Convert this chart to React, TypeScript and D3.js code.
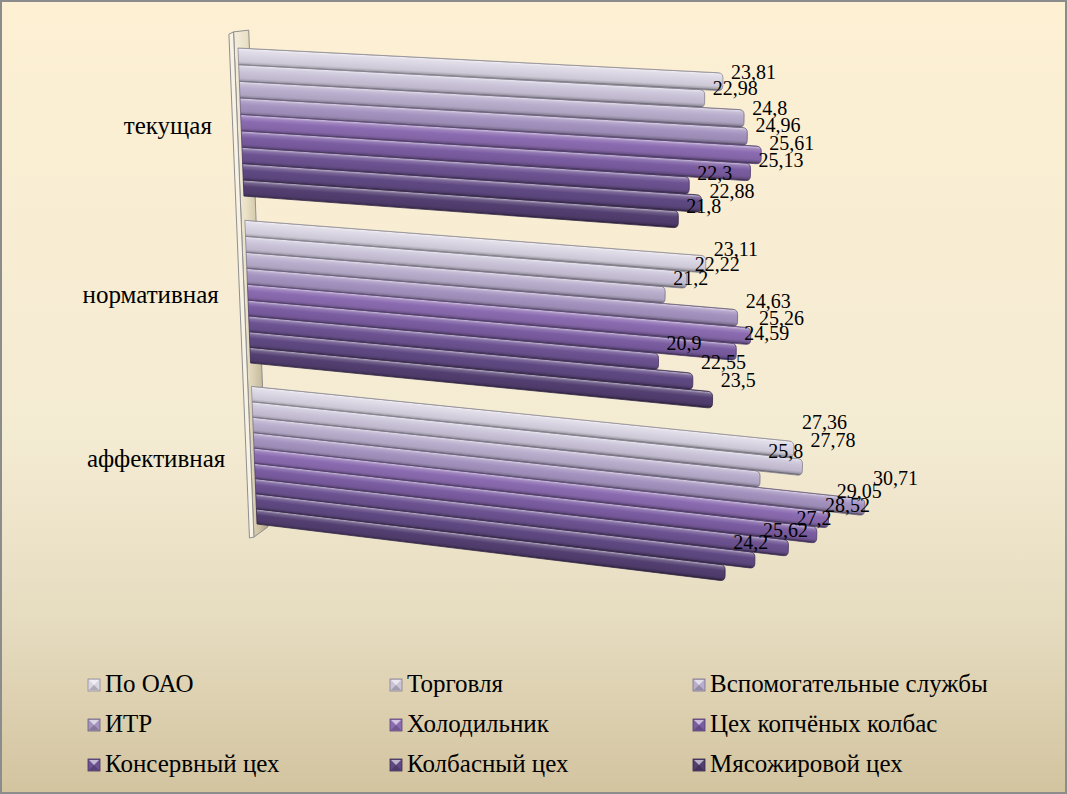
import React from "react";
import * as d3 from "d3";

// categories (top to bottom) and series (top bar to bottom bar inside each group)
const categories = ["текущая", "нормативная", "аффективная"];
const seriesNames = [
  "По ОАО",
  "Торговля",
  "Вспомогательные службы",
  "ИТР",
  "Холодильник",
  "Цех копчёных колбас",
  "Консервный цех",
  "Колбасный цех",
  "Мясожировой цех",
];
const seriesColors = [
  "#dad5e3",
  "#cbc4d9",
  "#b9aecd",
  "#a493bf",
  "#8b6bb1",
  "#7b5da2",
  "#6d5392",
  "#604983",
  "#533f71",
];
const valuesCurrent = [23.81, 22.98, 24.8, 24.96, 25.61, 25.13, 22.3, 22.88, 21.8];
const valuesNormative = [23.11, 22.22, 21.2, 24.63, 25.26, 24.59, 20.9, 22.55, 23.5];
const valuesAffective = [27.36, 27.78, 25.8, 30.71, 29.05, 28.52, 27.2, 25.62, 24.2];
const values = [valuesCurrent, valuesNormative, valuesAffective];

const W = 1067;
const H = 794;
const FONT = "'Liberation Serif', 'Times New Roman', serif";

type Pt = { x: number; y: number };

// planar perspective: solve the homography from 4 point pairs
function homography(src: [number, number][], dst: [number, number][]) {
  const A: number[][] = [];
  src.forEach(([u, w], i) => {
    const [x, y] = dst[i];
    A.push([u, w, 1, 0, 0, 0, -u * x, -w * x, x]);
    A.push([0, 0, 0, u, w, 1, -u * y, -w * y, y]);
  });
  const n = 8;
  for (let c = 0; c < n; c++) {
    let p = c;
    for (let r = c + 1; r < n; r++) if (Math.abs(A[r][c]) > Math.abs(A[p][c])) p = r;
    [A[c], A[p]] = [A[p], A[c]];
    for (let r = 0; r < n; r++) {
      if (r === c) continue;
      const f = A[r][c] / A[c][c];
      for (let k = c; k <= n; k++) A[r][k] -= f * A[c][k];
    }
  }
  const h = A.map((row, i) => row[n] / row[i]);
  return (u: number, w: number): Pt => {
    const d = h[6] * u + h[7] * w + 1;
    return { x: (h[0] * u + h[1] * w + h[2]) / d, y: (h[3] * u + h[4] * w + h[5]) / d };
  };
}

const x = d3.scaleLinear().domain([0, 1]).range([0, 1]);
const band = d3.scaleBand<string>().domain(categories).range([0, 30]).paddingInner(1.5 / 10.5);
const sub = d3.scaleBand<string>().domain(seriesNames).range([0, band.bandwidth()]);

const proj = homography(
  [
    [x(0), 0],
    [x(0), 30],
    [x(23.81), 0],
    [x(24.2), 30],
  ],
  [
    [238, 48],
    [257, 524],
    [723, 73],
    [725, 581],
  ]
);

const mixW = (c: string, t: number) => d3.interpolateRgb(c, "#ffffff")(t);
const mixB = (c: string, t: number) => d3.interpolateRgb(c, "#000000")(t);
const norm = (a: Pt, b: Pt) => {
  const dx = b.x - a.x;
  const dy = b.y - a.y;
  const l = Math.hypot(dx, dy);
  return { x: dx / l, y: dy / l };
};
const f = (p: Pt) => `${p.x.toFixed(2)},${p.y.toFixed(2)}`;
const poly = (pts: Pt[]) => "M" + pts.map(f).join("L") + "Z";

// label lift relative to the bar's top edge, per group (first bar, last bar)
const labelLift = [
  [6, 2],
  [0, -5],
  [-12, -16],
];

function Bar({ ci, si }: { ci: number; si: number }) {
  const v = values[ci][si];
  const w0 = band(categories[ci])! + sub(seriesNames[si])!;
  const w1 = w0 + sub.bandwidth();
  const u = x(v);
  const P1 = proj(0, w0);
  const P2 = proj(u, w0);
  const P3 = proj(u, w1);
  const P4 = proj(0, w1);
  const d = norm(P1, P2);
  const dd = norm(P4, P3);
  const e = norm(P2, P3);
  const r = 5;
  const path =
    `M${f(P1)}L${f({ x: P2.x - d.x * r, y: P2.y - d.y * r })}` +
    `Q${f(P2)} ${f({ x: P2.x + e.x * r, y: P2.y + e.y * r })}` +
    `L${f({ x: P3.x - e.x * r, y: P3.y - e.y * r })}` +
    `Q${f(P3)} ${f({ x: P3.x - dd.x * r, y: P3.y - dd.y * r })}` +
    `L${f(P4)}Z`;
  const mt = proj(u / 2, w0);
  const mb = proj(u / 2, w1);
  const n = { x: -d.y, y: d.x };
  const t = (mb.x - mt.x) * n.x + (mb.y - mt.y) * n.y;
  const c = seriesColors[si];
  const id = `bar${ci}_${si}`;
  const lift = labelLift[ci][0] + ((labelLift[ci][1] - labelLift[ci][0]) * si) / 8;
  return (
    <g>
      <defs>
        <linearGradient
          id={id}
          gradientUnits="userSpaceOnUse"
          x1={mt.x}
          y1={mt.y}
          x2={mt.x + n.x * t}
          y2={mt.y + n.y * t}
        >
          <stop offset="0" stopColor={mixB(c, 0.25)} />
          <stop offset="0.06" stopColor={mixW(c, 0.5)} />
          <stop offset="0.18" stopColor={mixW(c, 0.18)} />
          <stop offset="0.4" stopColor={c} />
          <stop offset="0.78" stopColor={mixB(c, 0.06)} />
          <stop offset="0.92" stopColor={mixB(c, 0.22)} />
          <stop offset="1" stopColor={mixB(c, 0.5)} />
        </linearGradient>
      </defs>
      <path d={path} fill={`url(#${id})`} stroke={mixB(c, 0.35)} strokeWidth={0.8} />
      <text x={P2.x + 8} y={P2.y + lift} fontFamily={FONT} fontSize={20} fill="#000">
        {String(v).replace(".", ",")}
      </text>
    </g>
  );
}

function Wall() {
  const top = band.range()[0];
  const bot = band.range()[1];
  const L0 = proj(-0.45, top - 0.8);
  const L1 = proj(-0.45, bot + 1.0);
  const M0 = proj(-0.2, top - 0.95);
  const M1 = proj(-0.2, bot + 0.9);
  const R0 = proj(0.6, top - 1.1);
  const R1 = proj(0.6, bot + 0.1);
  return (
    <g>
      <defs>
        <linearGradient id="wallFace" x1="0" y1="0" x2="1" y2="0">
          <stop offset="0" stopColor="#f4eddb" />
          <stop offset="0.35" stopColor="#ebe2c8" />
          <stop offset="0.75" stopColor="#cdc2a3" />
          <stop offset="1" stopColor="#b0a585" />
        </linearGradient>
      </defs>
      <path d={poly([M0, R0, R1, M1])} fill="url(#wallFace)" stroke="#8e8e8e" strokeWidth={1} />
      <path d={poly([L0, M0, M1, L1])} fill="#f7f2e4" stroke="#8e8e8e" strokeWidth={1} />
    </g>
  );
}

function LegendMarker({ x0, y0, c }: { x0: number; y0: number; c: string }) {
  const s = 12;
  const cx = x0 + s / 2;
  const cy = y0 + s / 2;
  return (
    <g>
      <rect x={x0} y={y0} width={s} height={s} fill={c} stroke={mixB(c, 0.35)} strokeWidth={0.8} />
      <path d={`M${x0 + 1},${y0 + 1}L${x0 + s - 1},${y0 + 1}L${cx},${cy}Z`} fill={mixW(c, 0.6)} />
      <path d={`M${x0 + 1},${y0 + s - 1}L${x0 + s - 1},${y0 + s - 1}L${cx},${cy}Z`} fill={mixB(c, 0.2)} />
    </g>
  );
}

export default function App() {
  const legendCols = [88, 390, 693];
  const legendRows = [679, 719, 759];
  return (
    <div>
      <style>{`body{margin:0}`}</style>
      <svg width={W} height={H} style={{ display: "block" }}>
        <defs>
          <linearGradient id="bg" x1="0" y1="0" x2="0" y2="1">
            <stop offset="0" stopColor="#fdf0d3" />
            <stop offset="0.55" stopColor="#f4ebd3" />
            <stop offset="0.78" stopColor="#e6dcc0" />
            <stop offset="1" stopColor="#d3c4a0" />
          </linearGradient>
        </defs>
        <rect x={1} y={1} width={W - 2} height={H - 2} fill="url(#bg)" stroke="#8c8c8c" strokeWidth={2} />
        <Wall />
        {categories.map((cat, ci) => {
          const mid = proj(0, band(cat)! + band.bandwidth() / 2);
          return (
            <g key={cat}>
              {seriesNames.map((s, si) => (
                <Bar key={s} ci={ci} si={si} />
              ))}
              <text x={mid.x - 29} y={mid.y + 11} textAnchor="end" fontFamily={FONT} fontSize={25}>
                {cat}
              </text>
            </g>
          );
        })}
        {seriesNames.map((s, i) => {
          const x0 = legendCols[i % 3];
          const y0 = legendRows[Math.floor(i / 3)];
          return (
            <g key={s}>
              <LegendMarker x0={x0} y0={y0} c={seriesColors[i]} />
              <text x={x0 + 17} y={y0 + 13} fontFamily={FONT} fontSize={25}>
                {s}
              </text>
            </g>
          );
        })}
      </svg>
    </div>
  );
}
